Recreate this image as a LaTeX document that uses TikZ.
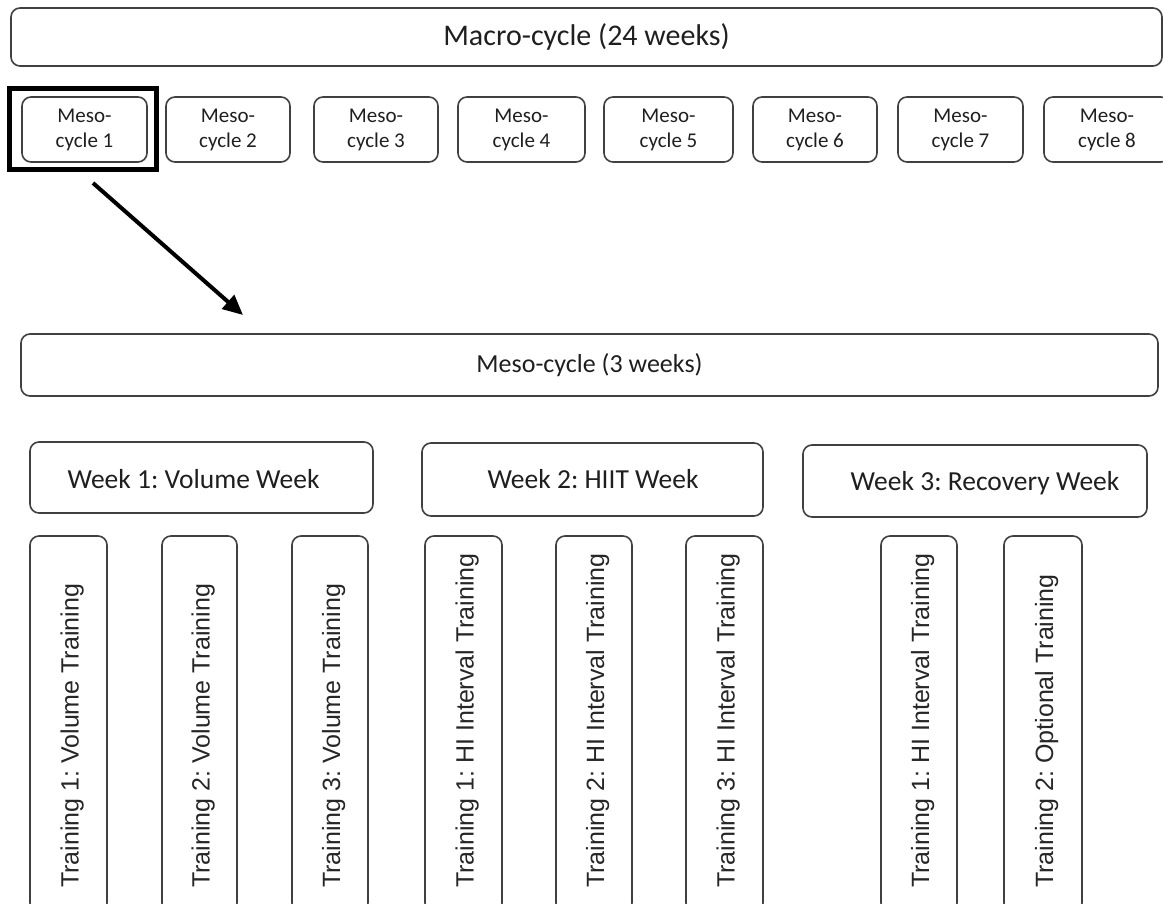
\documentclass[tikz,border=0pt]{standalone}
\usepackage{fontspec}
\setmainfont{Carlito}
\newfontfamily\arifont{Liberation Sans}
\usetikzlibrary{arrows.meta}
\frenchspacing
\tikzset{
  rbox/.style={draw=black!75, line width=1.6pt, rounded corners=9pt, inner sep=0pt, align=center, text=black!88},
  bigtxt/.style={font=\frenchspacing\fontsize{26}{31}\selectfont, text=black!88},
  macrotxt/.style={font=\frenchspacing\fontsize{30}{36}\selectfont, text=black!88},
  weektxt/.style={font=\frenchspacing\fontsize{27.5}{33}\selectfont, text=black!88},
  smalltxt/.style={font=\fontsize{21}{25}\selectfont},
  vtxt/.style={font=\frenchspacing\arifont\fontsize{25}{29}\selectfont, rotate=90, anchor=base west, inner sep=0pt, text=black!85},
  selbox/.style={draw=black, line width=5pt, inner sep=0pt},
}
\begin{document}
\begin{tikzpicture}[x=1pt,y=-1pt]
\useasboundingbox (0,0) rectangle (1163,904);
% macro
\node[rbox, macrotxt, minimum width=1151pt, minimum height=58pt] (macro) at (586.5,37) {Macro-cycle (24 weeks)};
% meso boxes
\node[rbox, smalltxt, minimum width=125pt, minimum height=65pt] (m1) at (84.5,129.5) {Meso-\\cycle 1};
\node[rbox, smalltxt, minimum width=124pt, minimum height=65pt] (m2) at (228,129.5) {Meso-\\cycle 2};
\node[rbox, smalltxt, minimum width=124pt, minimum height=65pt] (m3) at (376,129.5) {Meso-\\cycle 3};
\node[rbox, smalltxt, minimum width=127pt, minimum height=65pt] (m4) at (521.5,129.5) {Meso-\\cycle 4};
\node[rbox, smalltxt, minimum width=129pt, minimum height=65pt] (m5) at (668.5,129.5) {Meso-\\cycle 5};
\node[rbox, smalltxt, minimum width=124pt, minimum height=65pt] (m6) at (815,129.5) {Meso-\\cycle 6};
\node[rbox, smalltxt, minimum width=125pt, minimum height=65pt] (m7) at (960.5,129.5) {Meso-\\cycle 7};
\node[rbox, smalltxt, minimum width=126pt, minimum height=65pt] (m8) at (1107,129.5) {Meso-\\cycle 8};
% selection
\node[selbox, minimum width=147pt, minimum height=81pt] (sel) at (83,129) {};
% arrow
\coordinate (a0) at (93,183);
\coordinate (a1) at (243,315);
\draw[line width=4pt, -{Triangle[length=20pt,width=18pt]}] (a0) -- (a1);
% meso-cycle 3 weeks
\node[rbox, bigtxt, minimum width=1137pt, minimum height=62pt] (meso) at (589.5,365) {Meso-cycle (3 weeks)};
% weeks
\node[rbox, minimum width=343pt, minimum height=71pt] (w1) at (201.5,477.5) {};
\node[rbox, minimum width=341pt, minimum height=73pt] (w2) at (592.5,479.5) {};
\node[rbox, minimum width=344pt, minimum height=72pt] (w3) at (975,481) {};
\node[weektxt, anchor=base, inner sep=0pt] (w1t) at (193.5,488) {Week 1: Volume Week};
\node[weektxt, anchor=base, inner sep=0pt] (w2t) at (593,488) {Week 2: HIIT Week};
\node[weektxt, anchor=base, inner sep=0pt] (w3t) at (985,490) {Week 3: Recovery Week};
% vertical boxes
\node[rbox, minimum width=77pt, minimum height=376pt] (v1) at (68.5,724) {};
\node[rbox, minimum width=75pt, minimum height=376pt] (v2) at (199.5,724) {};
\node[rbox, minimum width=76pt, minimum height=376pt] (v3) at (330,724) {};
\node[rbox, minimum width=77pt, minimum height=376pt] (v4) at (463.5,724) {};
\node[rbox, minimum width=76pt, minimum height=376pt] (v5) at (594,724) {};
\node[rbox, minimum width=77pt, minimum height=376pt] (v6) at (724.5,724) {};
\node[rbox, minimum width=76pt, minimum height=376pt] (v7) at (919,724) {};
\node[rbox, minimum width=78pt, minimum height=376pt] (v8) at (1043,724) {};
\node[vtxt] (t1) at (78.5,888) {Training 1: Volume Training};
\node[vtxt] (t2) at (209.5,888) {Training 2: Volume Training};
\node[vtxt] (t3) at (340,888) {Training 3: Volume Training};
\node[vtxt] (t4) at (473.5,888) {Training 1: HI Interval Training};
\node[vtxt] (t5) at (604,888) {Training 2: HI Interval Training};
\node[vtxt] (t6) at (734.5,888) {Training 3: HI Interval Training};
\node[vtxt] (t7) at (929,888) {Training 1: HI Interval Training};
\node[vtxt] (t8) at (1053,888) {Training 2: Optional Training};
\end{tikzpicture}
\end{document}
